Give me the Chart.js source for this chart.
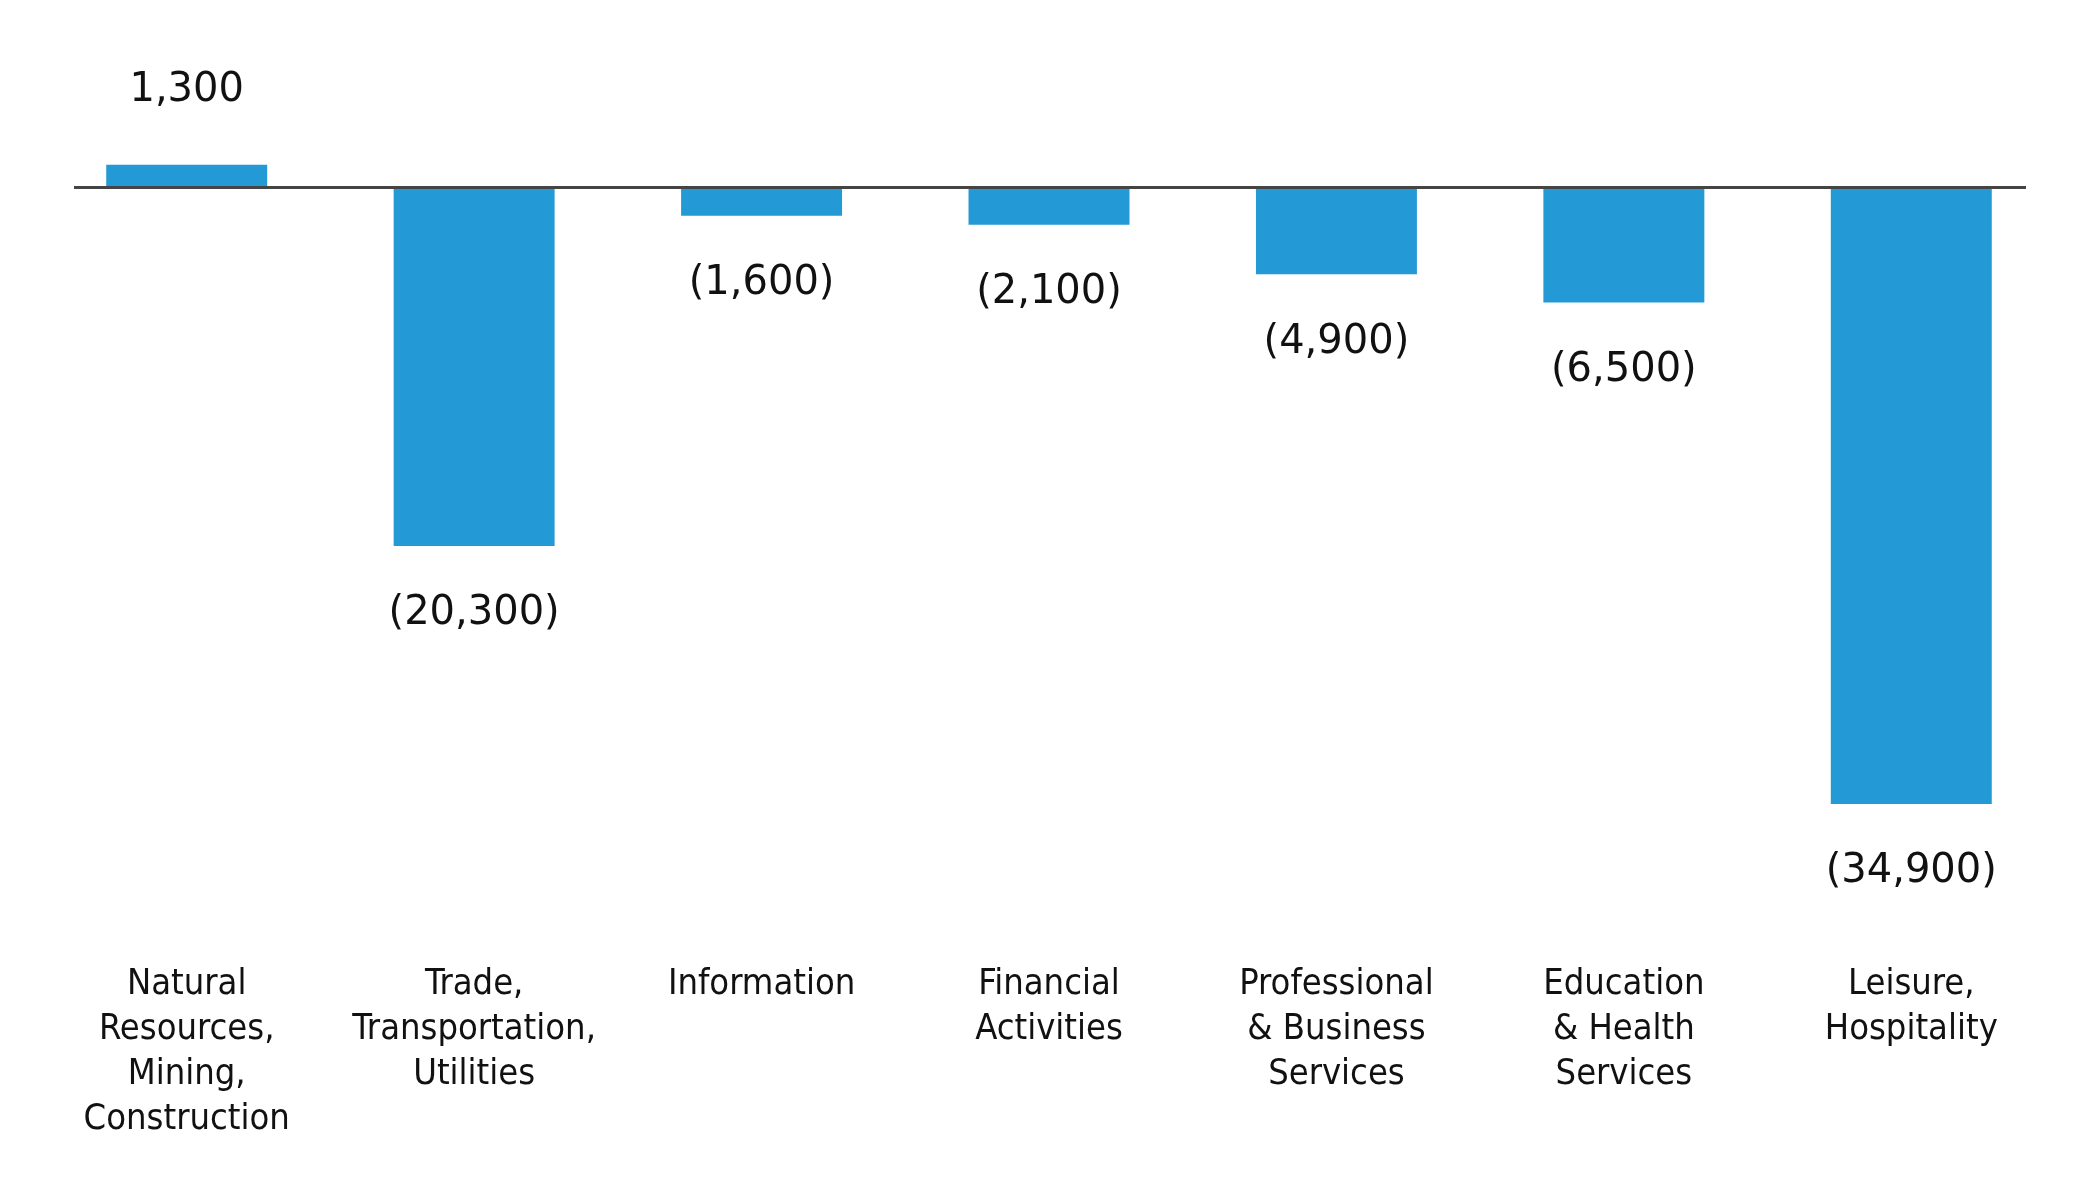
<!DOCTYPE html>
<html>
<head>
<meta charset="utf-8">
<script src="https://cdn.jsdelivr.net/npm/chart.js@4"></script>
<style>
  html, body { margin: 0; padding: 0; background: #fff; }
  #wrap { width: 2100px; height: 1204px; }
</style>
</head>
<body>
<div id="wrap"><canvas id="jobs"></canvas></div>
<script>
const categories = [
  ['Natural', 'Resources,', 'Mining,', 'Construction'],
  ['Trade,', 'Transportation,', 'Utilities'],
  ['Information'],
  ['Financial', 'Activities'],
  ['Professional', '& Business', 'Services'],
  ['Education', '& Health', 'Services'],
  ['Leisure,', 'Hospitality']
];
const changes = [1300, -20300, -1600, -2100, -4900, -6500, -34900];

const fmt = v => {
  const s = Math.abs(v).toLocaleString('en-US');
  return v < 0 ? '(' + s + ')' : s;
};

const valueLabels = {
  id: 'valueLabels',
  afterDatasetsDraw(chart) {
    const { ctx, chartArea, scales } = chart;
    const zero = scales.y.getPixelForValue(0);
    // zero line
    ctx.save();
    ctx.strokeStyle = '#444';
    ctx.lineWidth = 3;
    ctx.beginPath();
    ctx.moveTo(chartArea.left + 31, zero);
    ctx.lineTo(chartArea.right - 29, zero);
    ctx.stroke();

    ctx.font = '40px "DejaVu Sans", sans-serif';
    ctx.fillStyle = '#111';
    ctx.textAlign = 'center';
    ctx.textBaseline = 'middle';
    chart.getDatasetMeta(0).data.forEach((bar, i) => {
      const v = changes[i];
      const y = v < 0 ? bar.y + 68 : bar.y - 74;
      ctx.fillText(fmt(v), bar.x, y);
    });
    ctx.restore();
  }
};

new Chart(document.getElementById('jobs'), {
  type: 'bar',
  data: {
    labels: categories,
    datasets: [{
      data: changes,
      backgroundColor: '#2399d5',
      borderWidth: 0,
      barPercentage: 0.56,
      categoryPercentage: 1
    }]
  },
  options: {
    responsive: true,
    maintainAspectRatio: false,
    animation: false,
    layout: { padding: { left: 43, right: 45, top: 11, bottom: 60 } },
    plugins: { legend: { display: false }, tooltip: { enabled: false } },
    scales: {
      x: {
        grid: { display: false, drawTicks: false },
        border: { display: false },
        afterFit(scale) { scale.height = 250; },
        ticks: {
          color: '#111',
          padding: 68,
          maxRotation: 0,
          autoSkip: false,
          font: { family: '"Liberation Sans Narrow", "DejaVu Sans Condensed", Roboto, sans-serif', size: 36, lineHeight: 1.25 }
        }
      },
      y: {
        display: false,
        min: -40000,
        max: 10000
      }
    }
  },
  plugins: [valueLabels]
});
</script>
</body>
</html>
